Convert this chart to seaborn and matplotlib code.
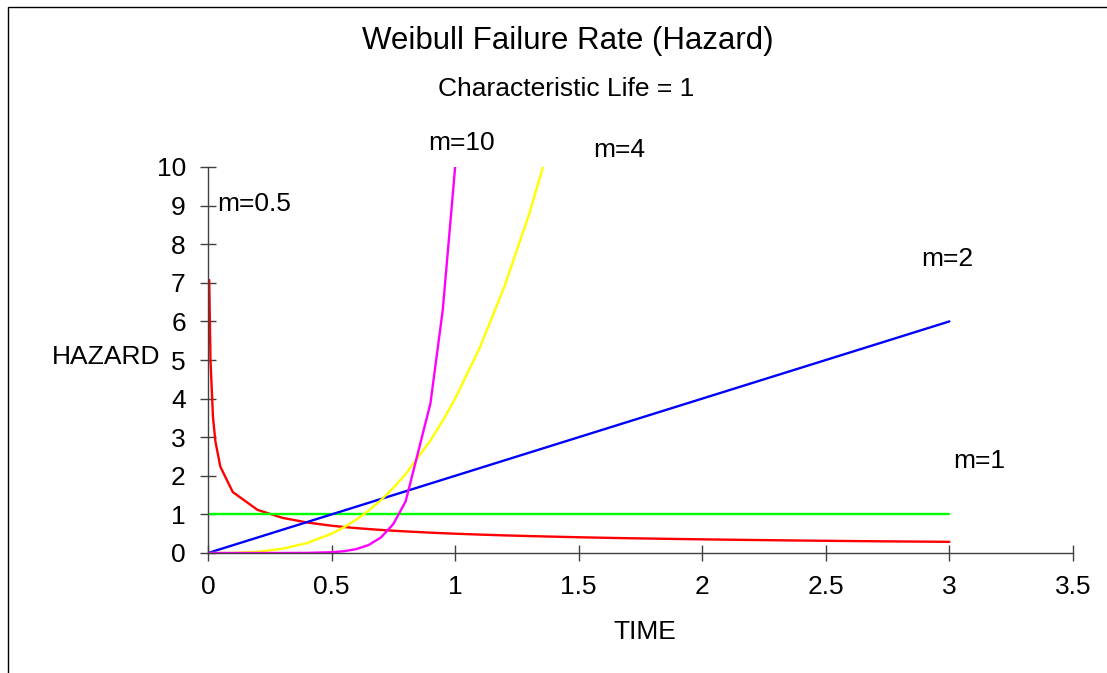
import matplotlib
matplotlib.use("Agg")
import matplotlib.pyplot as plt
import matplotlib.patches as mpatches
import numpy as np
import pandas as pd
import seaborn as sns

# time points of the worksheet
time = [0, 0.005, 0.01, 0.02, 0.03, 0.05, 0.1, 0.2, 0.3, 0.4, 0.5, 0.55, 0.6,
        0.65, 0.7, 0.75, 0.8, 0.9, 0.95, 1.0, 1.1, 1.2, 1.3, 1.4, 1.5, 1.6,
        1.7, 1.8, 1.9, 2.0, 2.1, 2.2, 2.3, 2.4, 2.5, 2.6, 2.7, 2.8, 2.9, 3.0]

# hazard values for each shape parameter m (None = not plotted)
hazard_m05 = [None, 7.071, 5.0, 3.536, 2.887, 2.236, 1.581, 1.118, 0.913, 0.791,
              0.707, 0.674, 0.645, 0.620, 0.598, 0.577, 0.559, 0.527, 0.513, 0.5,
              0.477, 0.456, 0.439, 0.423, 0.408, 0.395, 0.383, 0.373, 0.363, 0.354,
              0.345, 0.337, 0.330, 0.323, 0.316, 0.310, 0.304, 0.299, 0.294, 0.289]
hazard_m1 = [1.0] * 40
hazard_m2 = [0, 0.01, 0.02, 0.04, 0.06, 0.1, 0.2, 0.4, 0.6, 0.8, 1.0, 1.1, 1.2,
             1.3, 1.4, 1.5, 1.6, 1.8, 1.9, 2.0, 2.2, 2.4, 2.6, 2.8, 3.0, 3.2,
             3.4, 3.6, 3.8, 4.0, 4.2, 4.4, 4.6, 4.8, 5.0, 5.2, 5.4, 5.6, 5.8, 6.0]
hazard_m4 = [0, 0.0000005, 0.000004, 0.000032, 0.000108, 0.0005, 0.004, 0.032,
             0.108, 0.256, 0.5, 0.6655, 0.864, 1.0985, 1.372, 1.6875, 2.048,
             2.916, 3.4295, 4.0, 5.324, 6.912, 8.788, 10.976] + [None] * 16
hazard_m10 = [0, 0, 0, 0, 0, 0, 0.00000001, 0.0000051, 0.000197, 0.00262,
              0.0195, 0.0461, 0.1008, 0.2071, 0.4035, 0.7508, 1.342, 3.874,
              6.302, 10.0] + [None] * 20

series_names = ["m=0.5", "m=1", "m=2", "m=4", "m=10"]
series_values = [hazard_m05, hazard_m1, hazard_m2, hazard_m4, hazard_m10]
colors = {"m=0.5": "#FF0000", "m=1": "#00FF00", "m=2": "#0000FF",
          "m=4": "#FFFF00", "m=10": "#FF00FF"}

x_ticks = [0, 0.5, 1, 1.5, 2, 2.5, 3, 3.5]
x_tick_labels = ["0", "0.5", "1", "1.5", "2", "2.5", "3", "3.5"]
y_ticks = list(range(0, 11))

rows = []
for name, vals in zip(series_names, series_values):
    for t, v in zip(time, vals):
        if v is not None:
            rows.append({"time": t, "hazard": v, "series": name})
df = pd.DataFrame(rows)

sns.set_style("white")
plt.rcParams["font.family"] = ["Liberation Sans", "DejaVu Sans"]
plt.rcParams["text.color"] = "black"

fig = plt.figure(figsize=(11.07, 6.73), dpi=100)
ax = fig.add_axes([208 / 1107, 120 / 673, 865 / 1107, 386 / 673])

sns.lineplot(data=df, x="time", y="hazard", hue="series", hue_order=series_names,
             palette=colors, estimator=None, sort=False, legend=False,
             linewidth=1.7, ax=ax)

ax.set_xlim(0, 3.5)
ax.set_ylim(0, 10)
ax.set_xticks(x_ticks)
ax.set_xticklabels(x_tick_labels)
ax.set_yticks(y_ticks)
ax.set_xlabel("")
ax.set_ylabel("")
for side in ["top", "right"]:
    ax.spines[side].set_visible(False)
for side in ["left", "bottom"]:
    ax.spines[side].set_color("#404040")
    ax.spines[side].set_linewidth(1.0)
ax.tick_params(axis="both", bottom=True, left=True, direction="inout",
               length=12, width=1.0, color="#404040", labelsize=19,
               labelcolor="black")
ax.tick_params(axis="x", pad=10)
ax.tick_params(axis="y", pad=10)
ax.set_facecolor("white")

# curve labels
label_size = 19
ax.text(1.027, 10.62, "m=10", fontsize=label_size, ha="center", va="center", clip_on=False)
ax.text(1.662, 10.44, "m=4", fontsize=label_size, ha="center", va="center", clip_on=False)
ax.text(0.036, 9.04, "m=0.5", fontsize=label_size, ha="left", va="center", clip_on=False)
ax.text(2.99, 7.62, "m=2", fontsize=label_size, ha="center", va="center", clip_on=False)
ax.text(3.12, 2.38, "m=1", fontsize=label_size, ha="center", va="center", clip_on=False)

fig.text(568 / 1107, 1 - 41 / 673, "Weibull Failure Rate (Hazard)", fontsize=22.5,
         ha="center", va="center")
fig.text(566 / 1107, 1 - 89 / 673, "Characteristic Life = 1", fontsize=19,
         ha="center", va="center")
fig.text(106 / 1107, 1 - 357 / 673, "HAZARD", fontsize=19, ha="center", va="center")
fig.text(645 / 1107, 1 - 632 / 673, "TIME", fontsize=19, ha="center", va="center")

# chart-area border (right and bottom edges fall outside the picture)
border = mpatches.Rectangle((8 / 1107, -0.1), 1.2, 1.1 - 7 / 673,
                            transform=fig.transFigure, fill=False,
                            edgecolor="black", linewidth=1.0, clip_on=False)
fig.patches.append(border)

fig.savefig("out.png", dpi=100)
